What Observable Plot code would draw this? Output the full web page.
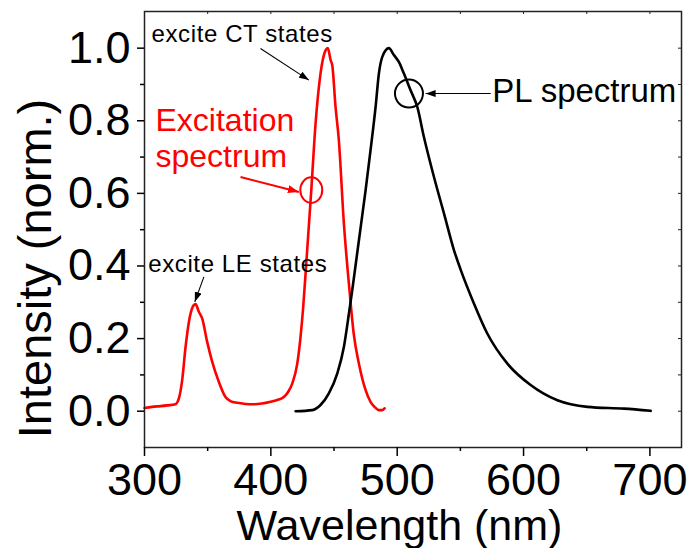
<!DOCTYPE html>
<html><head><meta charset="utf-8">
<script src="https://cdn.jsdelivr.net/npm/d3@7"></script>
<script src="https://cdn.jsdelivr.net/npm/@observablehq/plot@0.6"></script>
<style>body{margin:0;background:#fff} svg{display:block}</style>
</head><body><div id="chart"></div>
<script>
// Excitation spectrum (red)
const excitationWavelength = [300, 306, 312.7, 318, 324.5, 327.2, 329.8, 332.5, 335.9, 339, 340.4, 343, 345.7, 349.6, 353.6, 358.8, 364.1, 368, 373.4, 380, 386.5, 393, 399.8, 405, 410.3, 414, 416.9, 420.9, 423.5, 425.6, 427.5, 432, 435.4, 439.3, 443.3, 445.1, 447.3, 448.6, 451.2, 453.8, 457.8, 461.8, 465.7, 469.7, 475, 479, 482, 485.5, 488, 490];
const excitationIntensity = [0.009, 0.012, 0.014, 0.016, 0.019, 0.035, 0.085, 0.177, 0.26, 0.292, 0.295, 0.274, 0.255, 0.191, 0.136, 0.081, 0.039, 0.028, 0.023, 0.020, 0.019, 0.021, 0.026, 0.031, 0.039, 0.055, 0.076, 0.131, 0.205, 0.287, 0.38, 0.609, 0.793, 0.93, 0.994, 1.0, 0.967, 0.953, 0.838, 0.747, 0.517, 0.35, 0.21, 0.131, 0.058, 0.025, 0.012, 0.003, 0.003, 0.008];
// PL spectrum (black)
const plWavelength = [419.6, 432.8, 439.3, 445.9, 452.6, 457.8, 461.8, 464.4, 469.7, 475, 478.9, 482.9, 485.5, 488.2, 493.4, 497.4, 501.3, 505.3, 510.6, 515.9, 521.1, 529.1, 537, 544.9, 550.2, 560.7, 571.3, 587.2, 605.6, 626.8, 650.5, 679.5, 700.6];
const plIntensity = [0.0, 0.003, 0.017, 0.049, 0.104, 0.177, 0.269, 0.333, 0.471, 0.609, 0.719, 0.838, 0.93, 0.976, 1.0, 0.981, 0.962, 0.93, 0.884, 0.838, 0.756, 0.645, 0.545, 0.444, 0.39, 0.297, 0.214, 0.131, 0.072, 0.03, 0.012, 0.007, 0.001];

// Ticks
const xTicks = [300, 400, 500, 600, 700];
const xMinorTicks = [350, 450, 550, 650];
const xTopTicks = [350, 400, 450, 500, 550, 600, 650, 700];
const yTicks = [0, 0.2, 0.4, 0.6, 0.8, 1.0];
const yMinorTicks = [0.1, 0.3, 0.5, 0.7, 0.9];
const yRightTicks = [0, 0.1, 0.2, 0.3, 0.4, 0.5, 0.6, 0.7, 0.8, 0.9, 1.0];

// Annotations (data coordinates)
const smallNotes = [
  {text: "excite CT states", x: 305.6, y: 1.039},
  {text: "excite LE states", x: 303.0, y: 0.405}
];
const excitationNotes = [
  {text: "Excitation", x: 308.7, y: 0.801},
  {text: "spectrum", x: 308.7, y: 0.701}
];
const plNotes = [{text: "PL spectrum", x: 575.3, y: 0.8815}];
const blackArrows = [
  {x1: 391.8, y1: 0.999, x2: 430.1, y2: 0.912},
  {x1: 347.0, y1: 0.370, x2: 339.8, y2: 0.301},
  {x1: 574.0, y1: 0.875, x2: 522.5, y2: 0.875}
];
const redArrows = [{x1: 376.0, y1: 0.645, x2: 422.2, y2: 0.604}];
const redMarker = [{x: 432.0, y: 0.609}];
const blackMarker = [{x: 509.3, y: 0.875}];

const excitation = excitationWavelength.map((w, i) => ({w, v: excitationIntensity[i]}));
const pl = plWavelength.map((w, i) => ({w, v: plIntensity[i]}));

function ellipse(rx, ry) {
  const k = 0.5523;
  return {draw(ctx) {
    ctx.moveTo(rx, 0);
    ctx.bezierCurveTo(rx, ry * k, rx * k, ry, 0, ry);
    ctx.bezierCurveTo(-rx * k, ry, -rx, ry * k, -rx, 0);
    ctx.bezierCurveTo(-rx, -ry * k, -rx * k, -ry, 0, -ry);
    ctx.bezierCurveTo(rx * k, -ry, rx, -ry * k, rx, 0);
    ctx.closePath();
  }};
}

const frameH = 548 - 11 - 101;
const frameW = 689 - 144 - 8;

const chart = Plot.plot({
  width: 689, height: 548,
  marginLeft: 144, marginRight: 8, marginTop: 11, marginBottom: 101,
  style: {fontFamily: "'Liberation Sans', Arial, sans-serif", background: "#fff", color: "#000", overflow: "visible"},
  x: {domain: [300, 725]},
  y: {domain: [-0.1, 1.101]},
  marks: [
    Plot.line(excitation, {x: "w", y: "v", stroke: "#ff0000", strokeWidth: 2.6, curve: "monotone-x"}),
    Plot.line(pl, {x: "w", y: "v", stroke: "#000", strokeWidth: 2.6, curve: "monotone-x"}),
    Plot.frame({stroke: "#222", strokeWidth: 1.5}),
    Plot.axisY({ticks: yTicks, tickSize: 7, tickPadding: 7, fontSize: 45, tickFormat: d3.format(".1f"), label: null, strokeWidth: 1.5}),
    Plot.axisY({ticks: yMinorTicks, tickSize: 4, tickFormat: () => "", label: null, strokeWidth: 1.5}),
    Plot.axisX({ticks: xTicks, tickSize: 9, tickPadding: 7, fontSize: 45, label: null, strokeWidth: 1.5}),
    Plot.axisX({ticks: xMinorTicks, tickSize: 4, tickFormat: () => "", label: null, strokeWidth: 1.5}),
    Plot.tickX(xTopTicks, {x: d => d, insetBottom: frameH - 3, stroke: "#222", strokeWidth: 1}),
    Plot.tickY(yRightTicks, {y: d => d, insetLeft: frameW - 3, stroke: "#222", strokeWidth: 1}),
    Plot.text(["Wavelength (nm)"], {text: d => d, frameAnchor: "bottom", lineAnchor: "middle", textAnchor: "middle", fontSize: 43, dx: -13.5, dy: 79}),
    Plot.text(["Intensity (norm.)"], {text: d => d, frameAnchor: "left", lineAnchor: "middle", textAnchor: "middle", rotate: -90, fontSize: 47, dx: -109, dy: 39}),
    Plot.text(smallNotes, {x: "x", y: "y", text: "text", textAnchor: "start", fontSize: 24, fill: "#000"}),
    Plot.text(excitationNotes, {x: "x", y: "y", text: "text", textAnchor: "start", fontSize: 32, fill: "#ff0000"}),
    Plot.text(plNotes, {x: "x", y: "y", text: "text", textAnchor: "start", fontSize: 33, fill: "#000"}),
    Plot.link(blackArrows, {x1: "x1", y1: "y1", x2: "x2", y2: "y2", stroke: "#000", strokeWidth: 1.1}),
    Plot.link(redArrows, {x1: "x1", y1: "y1", x2: "x2", y2: "y2", stroke: "#ff0000", strokeWidth: 2}),
    Plot.dot(redMarker, {x: "x", y: "y", symbol: ellipse(11, 12.8), r: 12, fill: "none", stroke: "#ff0000", strokeWidth: 2}),
    Plot.dot(blackMarker, {x: "x", y: "y", symbol: ellipse(14, 14), r: 14, fill: "none", stroke: "#000", strokeWidth: 2})
  ]
});

const svg = d3.select(chart);
const defs = svg.insert("defs", ":first-child");
function addMarker(id, color, len, wid) {
  defs.append("marker")
    .attr("id", id)
    .attr("markerUnits", "userSpaceOnUse")
    .attr("markerWidth", len).attr("markerHeight", wid)
    .attr("refX", len).attr("refY", wid / 2)
    .attr("orient", "auto")
    .attr("viewBox", `0 0 ${len} ${wid}`)
    .append("path")
    .attr("d", `M0,0L${len},${wid / 2}L0,${wid}Z`)
    .attr("fill", color);
}
addMarker("headBlack", "#000", 10, 7);
addMarker("headRed", "#ff0000", 11, 8);
const linkGroups = svg.selectAll('g[aria-label="link"]').nodes();
if (linkGroups[0]) d3.select(linkGroups[0]).selectAll("path").attr("marker-end", "url(#headBlack)");
if (linkGroups[1]) d3.select(linkGroups[1]).selectAll("path").attr("marker-end", "url(#headRed)");
svg.selectAll("text").filter(function () { return this.textContent.startsWith("excite"); }).style("letter-spacing", "0.6px");

document.getElementById("chart").appendChild(chart);
</script>
</body></html>
